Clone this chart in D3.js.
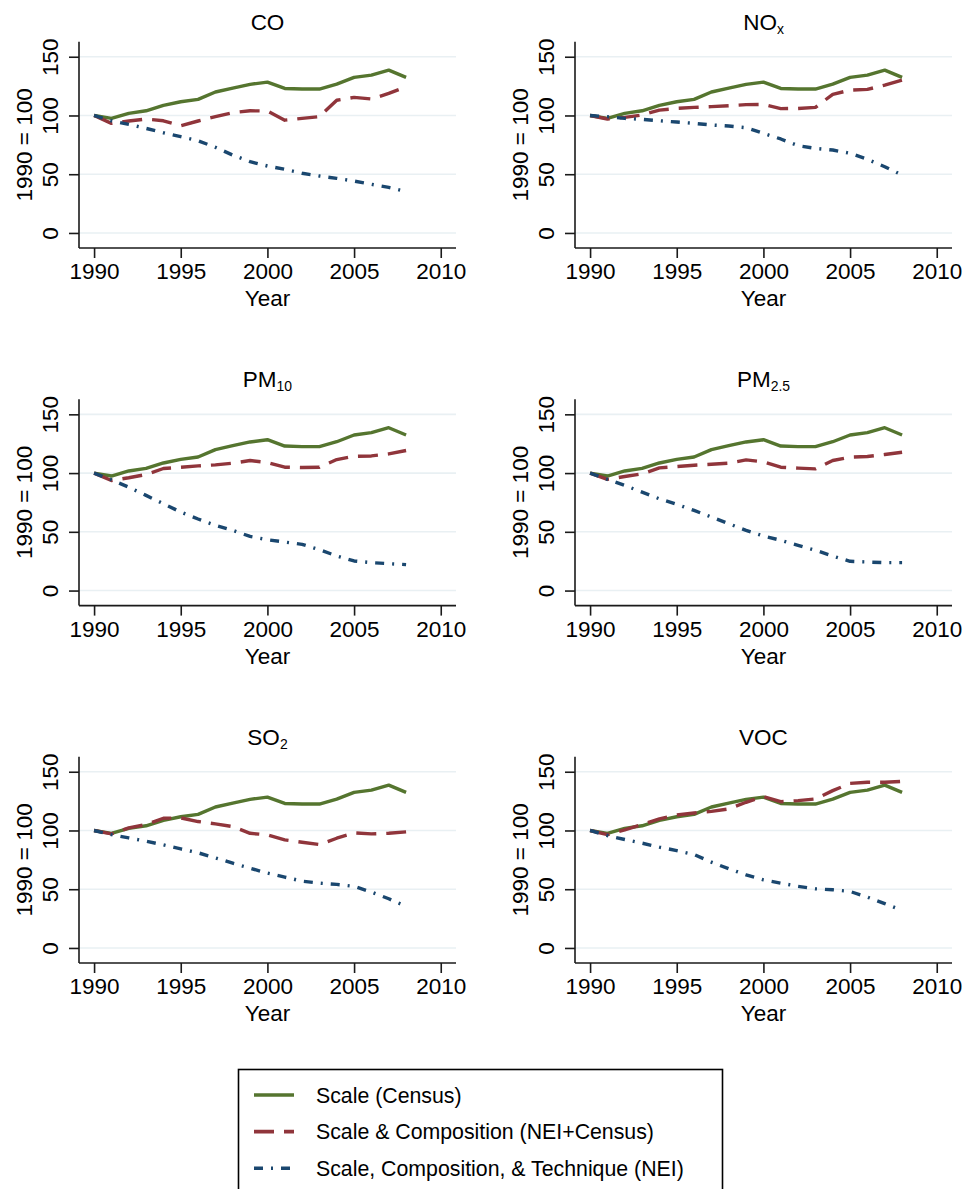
<!DOCTYPE html>
<html>
<head>
<meta charset="utf-8">
<script src="https://cdn.jsdelivr.net/npm/d3@7"></script>
<style>
  body { margin: 0; background: #fff; }
  svg { display: block; font-family: "Liberation Sans", Arial, sans-serif; }
</style>
</head>
<body>
<svg id="chart" width="966" height="1189"></svg>
<script>
// data (index, 1990 = 100)
const years = d3.range(1990, 2009);
const xTicks = [1990, 1995, 2000, 2005, 2010];
const yTicks = [0, 50, 100, 150];

// panel titles: [main, subscript]
const pollutants = [["CO", ""], ["NO", "x"], ["PM", "10"], ["PM", "2.5"], ["SO", "2"], ["VOC", ""]];

const seriesNames = [
  "Scale (Census)",
  "Scale & Composition (NEI+Census)",
  "Scale, Composition, & Technique (NEI)"
];

// the Census scale series is the same in every panel
const scaleCensus = [100, 97.5, 101.8, 104, 108.6, 111.7, 113.7, 120, 123.3, 126.5, 128.4, 123, 122.5, 122.5, 126.7, 132.4, 134.4, 138.6, 132.4];

const scaleComp = [
  [100, 93.3, 95.3, 97, 95.5, 91.3, 95.3, 99, 102.4, 104, 103.8, 96, 97.5, 99, 113, 115.4, 114, 118.8, 124.5],
  [100, 97, 98.4, 100.4, 104.6, 106, 106.9, 107.5, 108.3, 109.2, 109.4, 105.8, 106, 106.9, 118, 121.6, 122.2, 125.9, 130.1],
  [100, 93.7, 96, 98.8, 103.9, 105, 106.1, 107, 108.4, 110.7, 109, 105, 104.7, 105, 111.5, 114.3, 114.6, 116.3, 119.2],
  [100, 94.6, 97.1, 99.3, 104.4, 105.5, 106.7, 107.5, 108.4, 111.2, 109.5, 105, 104.2, 103.6, 110.7, 113.5, 114.1, 115.8, 117.7],
  [100, 97.1, 102.2, 105, 110.4, 110.7, 107.6, 105.6, 103.3, 97.6, 96.2, 92, 90, 88, 93.4, 97.9, 97.1, 97.6, 98.8],
  [100, 96.5, 100.5, 105, 109.8, 113.2, 114.9, 116.3, 118.3, 124, 128.8, 124.5, 125.4, 126.8, 133.9, 140.1, 141, 141, 141.8]
];

const scaleCompTech = [
  [100, 95.5, 92.4, 89, 85.3, 82, 78.5, 72.9, 66.3, 60.7, 57, 54.2, 50.8, 48.5, 46.5, 44.2, 41.4, 38.8, 35.2],
  [100, 99, 97.5, 96.7, 95.5, 94.4, 93.3, 91.9, 91, 89.6, 84.8, 80, 74.3, 72, 70.6, 67.8, 62.7, 56.4, 49.3],
  [100, 94.3, 88, 81, 73.9, 66.8, 60.9, 55.5, 51.2, 46.1, 43.3, 41.3, 39.3, 34.8, 29.4, 25.2, 23.8, 22.9, 22.1],
  [100, 94.6, 89.5, 83.8, 78.1, 73.4, 68.2, 62.6, 56.9, 51.3, 46.4, 42.8, 38.5, 34.3, 29.4, 24.9, 24.3, 23.8, 23.8],
  [100, 96.5, 93.7, 90.9, 87.7, 84.3, 81, 76.7, 72.2, 67.9, 63.7, 60.3, 56.9, 55.2, 54.1, 52.4, 47.6, 41.9, 35.4],
  [100, 95.7, 92.3, 89.2, 85.8, 82.9, 79.5, 73, 67.4, 62.3, 58, 55.2, 52.4, 50.4, 49.5, 48.1, 43.3, 37.7, 32]
];

var colors = ["#55752f", "#90353b", "#1a476f"],
  dashes = [null, "20,10", "9,8,2,8"];

var plot_w = 377,
  plot_h = 206.3;

var col_x = [79, 575],
  row_y = [41.7, 399.3, 756.7];

var fs = 22.5;

var svg = d3.select("#chart");

var xScale = d3.scaleLinear().domain([1989.13, 2010.88]).range([0, plot_w]);
var yScale = d3.scaleLinear().domain([-12.8, 162.8]).range([plot_h, 0]);

var line = d3
  .line()
  .x(function (d, i) { return xScale(years[i]); })
  .y(function (d) { return yScale(d); });

pollutants.forEach(function (p, k) {
  var g = svg
    .append("g")
    .attr("transform", "translate(" + col_x[k % 2] + "," + row_y[Math.floor(k / 2)] + ")");

  // grid lines
  g.selectAll(".grid")
    .data(yTicks)
    .enter()
    .append("line")
    .attr("x1", 0)
    .attr("x2", plot_w)
    .attr("y1", function (d) { return yScale(d); })
    .attr("y2", function (d) { return yScale(d); })
    .attr("stroke", "#e9f0f3")
    .attr("stroke-width", 1.6);

  // series
  var series = [scaleCensus, scaleComp[k], scaleCompTech[k]];
  series.forEach(function (s, j) {
    g.append("path")
      .datum(s)
      .attr("d", line)
      .attr("fill", "none")
      .attr("stroke", colors[j])
      .attr("stroke-width", 3.4)
      .attr("stroke-linejoin", "round")
      .attr("stroke-dasharray", dashes[j]);
  });

  // x axis
  var xAxis = g
    .append("g")
    .attr("transform", "translate(0," + plot_h + ")")
    .call(d3.axisBottom(xScale).tickValues(xTicks).tickFormat(d3.format("d")).tickSize(10).tickPadding(8));

  // y axis
  var yAxis = g
    .append("g")
    .call(d3.axisLeft(yScale).tickValues(yTicks).tickSize(10).tickPadding(0));

  [xAxis, yAxis].forEach(function (a) {
    a.select(".domain").attr("stroke", "#1a1a1a").attr("stroke-width", 1.6).attr("d", function () {
      return a === xAxis ? "M0,0H" + plot_w : "M0," + plot_h + "V0";
    });
    a.selectAll(".tick line").attr("stroke", "#1a1a1a").attr("stroke-width", 1.6);
    a.selectAll(".tick text")
      .attr("font-size", fs)
      .attr("font-family", "Liberation Sans, Arial, sans-serif")
      .attr("fill", "#000");
  });

  xAxis.selectAll(".tick text").attr("dy", "0.71em").attr("y", 15);

  yAxis.selectAll(".tick text")
    .attr("x", null)
    .attr("dy", null)
    .attr("text-anchor", "middle")
    .attr("transform", "translate(-21,0) rotate(-90)");

  // axis titles
  g.append("text")
    .attr("x", plot_w / 2)
    .attr("y", plot_h + 58)
    .attr("text-anchor", "middle")
    .attr("font-size", fs)
    .text("Year");

  g.append("text")
    .attr("transform", "translate(-47," + plot_h / 2 + ") rotate(-90)")
    .attr("text-anchor", "middle")
    .attr("font-size", fs)
    .text("1990 = 100");

  // panel title with subscript
  var title = g
    .append("text")
    .attr("x", plot_w / 2)
    .attr("y", -12)
    .attr("text-anchor", "middle")
    .attr("font-size", fs);
  title.append("tspan").text(p[0]);
  if (p[1]) {
    title.append("tspan")
      .attr("font-size", fs * 0.62)
      .attr("dy", 4)
      .text(p[1]);
  }
});

// legend
var legend = svg.append("g");
legend.append("rect")
  .attr("x", 238.5)
  .attr("y", 1069.5)
  .attr("width", 484)
  .attr("height", 160)
  .attr("fill", "#fff")
  .attr("stroke", "#000")
  .attr("stroke-width", 1.6);

seriesNames.forEach(function (name, j) {
  var cy = 1095 + j * 36.6;
  legend.append("line")
    .attr("x1", 254)
    .attr("x2", 294)
    .attr("y1", cy)
    .attr("y2", cy)
    .attr("stroke", colors[j])
    .attr("stroke-width", 3.6)
    .attr("stroke-dasharray", dashes[j]);
  legend.append("text")
    .attr("x", 316)
    .attr("y", cy + 7.5)
    .attr("font-size", 21.3)
    .text(name);
});
</script>
</body>
</html>
